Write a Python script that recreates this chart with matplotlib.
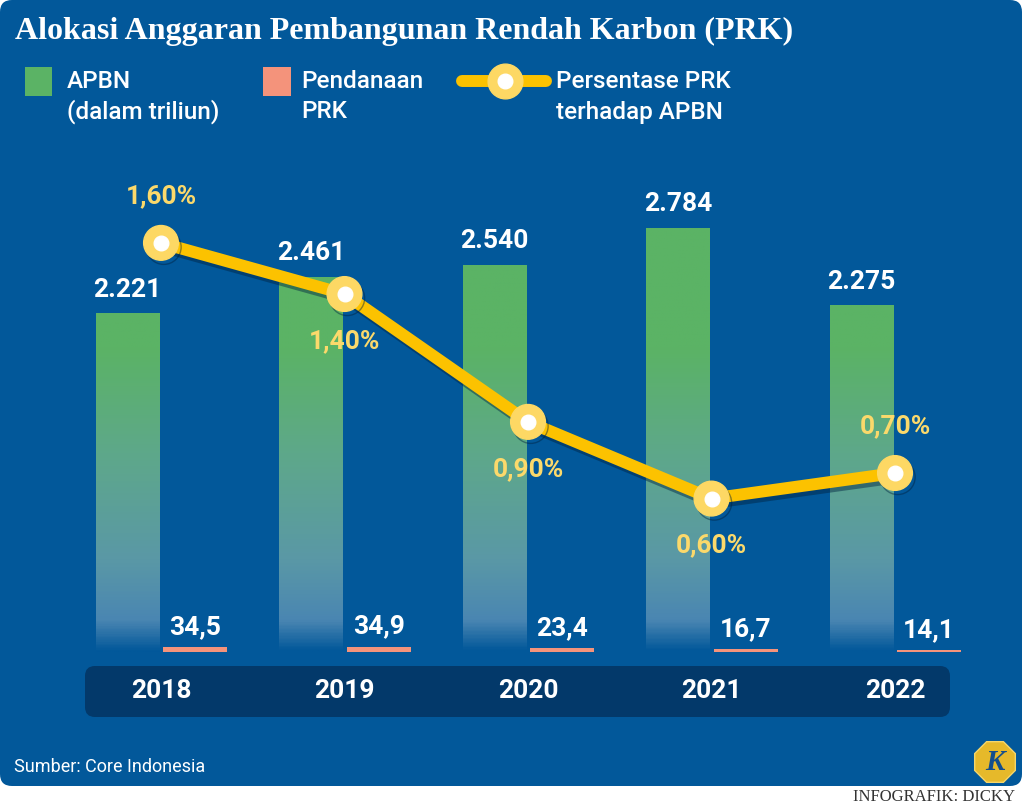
import numpy as np
import matplotlib
matplotlib.use("Agg")
import matplotlib.pyplot as plt
import matplotlib.patheffects as pe
from matplotlib.patches import FancyBboxPatch, Rectangle, RegularPolygon
from matplotlib.colors import LinearSegmentedColormap

years = ["2018", "2019", "2020", "2021", "2022"]
apbn = [2221, 2461, 2540, 2784, 2275]      # APBN (triliun)
prk = [34.5, 34.9, 23.4, 16.7, 14.1]       # pendanaan PRK (triliun)
pct = [1.60, 1.40, 0.90, 0.60, 0.70]       # persentase PRK terhadap APBN
pct_above = [True, False, False, False, True]

title = "Alokasi Anggaran Pembangunan Rendah Karbon (PRK)"
source = "Sumber: Core Indonesia"
credit = "INFOGRAFIK: DICKY"

BG = "#02589a"
BAND = "#03396a"
GREEN = "#5bb365"
SALMON = "#f4937b"
GOLD = "#fcc200"
GOLD_LIGHT = "#fdd864"
PCT_TXT = "#fbd96b"

W, H = 1024, 810
SANS = ["Roboto", "DejaVu Sans"]
SERIF = ["Liberation Serif", "DejaVu Serif"]


def main():
    fig = plt.figure(figsize=(W / 100, H / 100), dpi=100, facecolor="white")

    # --- background layer in pixel coords ---
    bg = fig.add_axes([0, 0, 1, 1], zorder=0)
    bg.set_xlim(0, W)
    bg.set_ylim(H, 0)
    bg.axis("off")
    bg.add_patch(FancyBboxPatch((0, 0), 1022, 786,
                                boxstyle="round,pad=0,rounding_size=12",
                                fc=BG, ec="none"))
    bg.add_patch(FancyBboxPatch((85, 666), 865, 51,
                                boxstyle="round,pad=0,rounding_size=10",
                                fc=BAND, ec="none"))

    bg.text(15, 31, title, fontsize=23, fontweight="bold", family=SERIF,
            color="white", va="center")

    # legend
    leg_kw = dict(fontsize=17.5, fontweight="medium", family=SANS, color="white", va="center")
    bg.add_patch(Rectangle((25, 67), 27, 29, fc=GREEN, ec="none"))
    bg.text(67, 81, "APBN", **leg_kw)
    bg.text(67, 112, "(dalam triliun)", **leg_kw)
    bg.add_patch(Rectangle((263, 67), 28, 29, fc=SALMON, ec="none"))
    bg.text(301, 81, "Pendanaan", **leg_kw)
    bg.text(301, 112, "PRK", **leg_kw)
    bg.plot([462, 546], [81, 81], color=GOLD, lw=8.6, solid_capstyle="round")
    bg.plot([505], [81], "o", ms=25, color=GOLD_LIGHT)
    bg.plot([505], [81], "o", ms=10.5, color="white")
    bg.text(556, 81, "Persentase PRK", **leg_kw)
    bg.text(556, 112, "terhadap APBN", **leg_kw)

    bg.text(14, 767, source, fontsize=13, family=SANS, color="white", va="center")
    bg.text(1015, 797, credit, fontsize=12, family=SERIF, color="#333333",
            ha="right", va="center")
    bg.add_patch(RegularPolygon((995, 762), numVertices=8, radius=22,
                                orientation=np.pi / 8, fc="#e6b92a", ec="#f5d66a", lw=1))
    bg.text(995, 763, "K", fontsize=21, family=SERIF, style="italic", fontweight="bold",
            color="#134e8c", ha="center", va="center")

    # --- chart axes ---
    ax = fig.add_axes([0, (H - 652) / H, 1, 502 / H], zorder=1)
    ax.patch.set_alpha(0)
    ax.axis("off")
    x = np.arange(len(years))
    step = 183.5
    ymax = 502 / 0.1522

    stops = [(0, BG), (200, "#4a86b2"), (600, "#5a98a6"), (1300, "#5ea88a"),
             (2000, GREEN), (ymax, GREEN)]
    fade = LinearSegmentedColormap.from_list("fade", [(v / ymax, c) for v, c in stops])

    gap, bw = 0.011, 0.345
    for i, v in enumerate(apbn):
        x0 = x[i] - gap - bw
        ys = np.linspace(0, v, 300)
        img = fade(ys / ymax)[:, None, :]
        ax.imshow(img, extent=[x0, x0 + bw, 0, v], origin="lower",
                  aspect="auto", interpolation="bilinear", zorder=2)
        ax.annotate(f"{v:,}".replace(",", "."), (x0 + bw / 2, v), xytext=(0, 24),
                    textcoords="offset pixels", ha="center", va="center",
                    fontsize=19, fontweight="bold", family=SANS, color="white")

    ax.bar(x + gap, prk, width=0.35, align="edge", color=SALMON, zorder=2)
    for i, v in enumerate(prk):
        ax.annotate(f"{v:.1f}".replace(".", ","), (x[i] + gap + 0.175, v), xytext=(0, 20),
                    textcoords="offset pixels", ha="center", va="center",
                    fontsize=19, fontweight="bold", family=SANS, color="white")

    for i, yr in enumerate(years):
        ax.annotate(yr, (x[i], 0), xytext=(0, -39), textcoords="offset pixels",
                    ha="center", va="center", fontsize=19, fontweight="bold",
                    family=SANS, color="white", annotation_clip=False)

    ax.set_xlim(-161 / step, (W - 161) / step)
    ax.set_ylim(0, ymax)

    # --- percentage line ---
    ax2 = ax.twinx()
    ax2.axis("off")
    ax2.set_ylim(0, 502 / 255.7)
    shadow = [pe.SimpleLineShadow(offset=(2, -3), shadow_color="#00213f", alpha=0.45),
              pe.Normal()]
    ax2.plot(x, pct, color=GOLD, lw=8.6, solid_joinstyle="round", zorder=3,
             path_effects=shadow)
    ax2.plot(x, pct, "o", ms=25, color=GOLD_LIGHT, zorder=4, path_effects=shadow)
    ax2.plot(x, pct, "o", ms=10.5, color="white", zorder=5)
    for i, v in enumerate(pct):
        dy = 47 if pct_above[i] else -47
        ax2.annotate(f"{v:.2f}%".replace(".", ","), (x[i], v), xytext=(0, dy),
                     textcoords="offset pixels", ha="center", va="center",
                     fontsize=19, fontweight="bold", family=SANS, color=PCT_TXT)

    fig.savefig("out.png", dpi=100, facecolor="white")
    plt.close(fig)


if __name__ == "__main__":
    main()
